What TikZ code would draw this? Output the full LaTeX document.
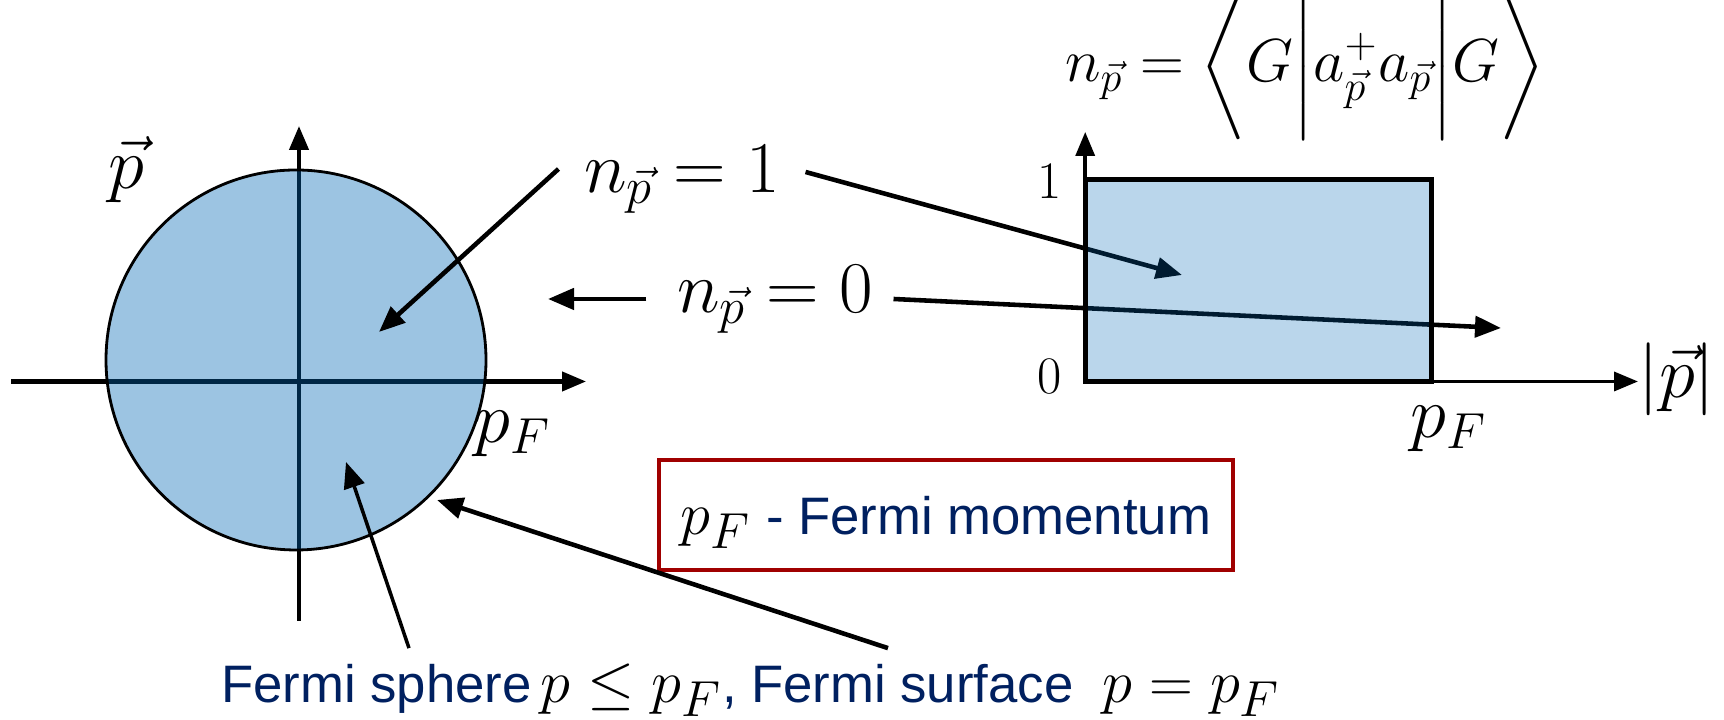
\documentclass[tikz,border=0pt]{standalone}
\usepackage{amsmath}
\usepackage{fontspec}
\setsansfont{Liberation Sans}
\usetikzlibrary{arrows.meta, positioning}
\definecolor{navy}{HTML}{002060}
\definecolor{boxred}{HTML}{A00000}
\definecolor{fillblue}{RGB}{0,103,180}
\newcommand{\bigmath}[1]{{\fontsize{19}{21}\selectfont\color{black}$#1$}}
\newcommand{\tallstrut}{\vphantom{\rule[-0.52cm]{0pt}{1.4cm}}}
\tikzset{
  axis/.style   ={-{Triangle[length=2.4mm,width=1.9mm]}, line width=1.2pt},
  ptr/.style    ={-{Triangle[length=2.6mm,width=2.1mm]}, line width=1.3pt},
  lbl/.style    ={font=\fontsize{20}{24}\selectfont, inner sep=0pt},
  tick/.style   ={font=\fontsize{15}{18}\selectfont, inner sep=0pt},
  note/.style   ={font=\sffamily\fontsize{15}{18}\selectfont, text=navy},
  momcell/.style={draw=boxred, line width=1.2pt, fill=white,
                  minimum width=5.74cm, minimum height=1.1cm,
                  text height=0.6cm, text depth=0.2cm, inner sep=0pt}
}
\begin{document}
\begin{tikzpicture}
  \useasboundingbox (0,0) rectangle (17.24,7.2);

  % left picture: momentum axes and the Fermi sphere
  \coordinate (lx0) at (0.11,3.385);
  \coordinate (lx1) at (5.86,3.385);
  \coordinate (ly0) at (2.99,0.99);
  \coordinate (ly1) at (2.99,5.94);
  \draw[axis] (lx0) -- (lx1);
  \draw[axis] (ly0) -- (ly1);
  \node[circle, draw, line width=0.8pt, fill=fillblue, fill opacity=0.39,
        minimum size=3.8cm, inner sep=0pt] (sph) at (2.96,3.6) {};

  \node[lbl] (pvec) at (1.26,5.50) {$\vec p$};
  \node[lbl] (pfl)  at (5.13,2.86) {$p_F$};

  % right picture: occupation numbers
  \coordinate (ry0) at (10.852,3.385);
  \coordinate (ry1) at (10.852,5.88);
  \coordinate (rx1) at (16.38,3.385);
  \draw[axis, line width=1pt] (ry0) -- (ry1);
  \draw[axis, line width=1pt] (ry0) -- (rx1);

  \node[lbl, font=\fontsize{18}{22}\selectfont, anchor=base] (form) at (13.05,6.38)
    {$n_{\vec p} = \left\langle\tallstrut G \middle| a^{+}_{\vec p} a_{\vec p} \middle| G \right\rangle$};
  \node[tick] (one)  at (10.50,5.39) {1};
  \node[tick] (zero) at (10.50,3.43) {0};
  \node[lbl]  (pfr)  at (14.49,2.91) {$p_F$};
  \node[lbl, font=\fontsize{22}{26}\selectfont] (absp) at (16.77,3.41) {$|\vec p|$};

  % labels with their pointers
  \node[lbl, inner sep=0.25cm] (n1) at (6.82,5.41) {$n_{\vec p} = 1$};
  \node[lbl, inner sep=0.2cm]  (n0) at (7.75,4.21) {$n_{\vec p} = 0$};
  \coordinate (inA)  at (3.79,3.88);
  \coordinate (inB)  at (11.82,4.45);
  \coordinate (outA) at (5.48,4.21);
  \coordinate (outB) at (15.01,3.92);
  \draw[ptr] ([yshift=1mm]n1.west) -- (inA);
  \draw[ptr] ([yshift=0.7mm]n1.east) -- (inB);
  \draw[ptr] ([xshift=-1mm]n0.west) -- (outA);
  \draw[ptr] (n0.east) -- (outB);

  \node[draw, line width=1.4pt, fill=fillblue, fill opacity=0.27,
        anchor=south west, minimum width=3.463cm, minimum height=2.023cm,
        inner sep=0pt, outer sep=0pt] (occ) at (ry0) {};

  % Fermi momentum box
  \node[momcell, note] (mom) at (9.46,2.05)
    {\bigmath{p_F} - Fermi momentum};

  % caption below
  \node[note, inner sep=0.15cm] (bot) at (7.51,0.30)
    {Fermi sphere\,\bigmath{p \le p_F}, Fermi surface\ \ \bigmath{p = p_F}};
  \coordinate (sphA)  at (3.46,2.58);
  \coordinate (surfA) at (4.37,2.20);
  \draw[ptr, line width=1pt] ([xshift=-3.42cm]bot.north) -- (sphA);
  \draw[ptr] ([xshift=1.37cm]bot.north) -- (surfA);
\end{tikzpicture}
\end{document}
